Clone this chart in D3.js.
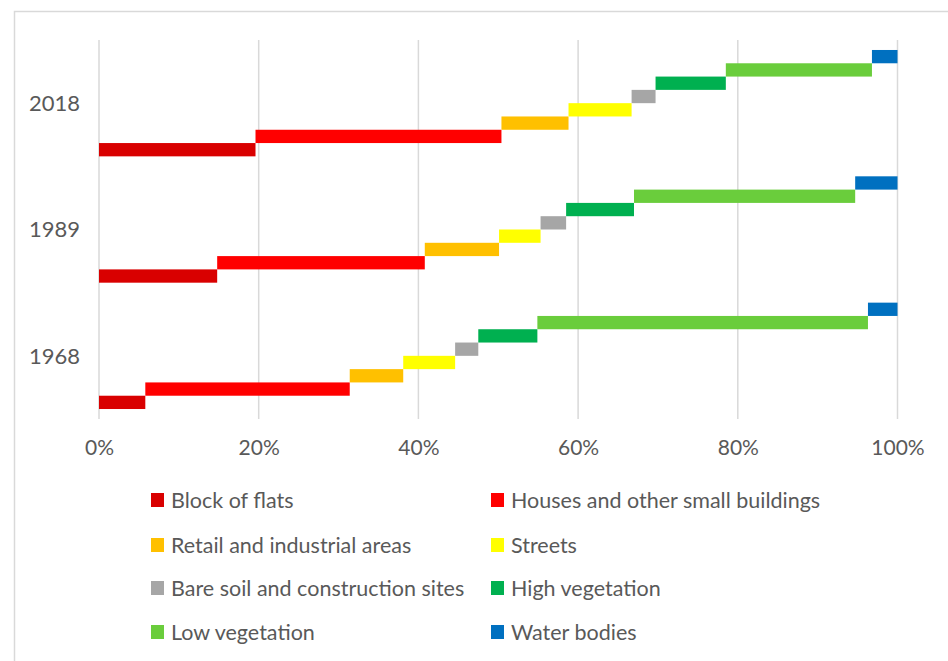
<!DOCTYPE html>
<html>
<head>
<meta charset="utf-8">
<script src="https://cdn.jsdelivr.net/npm/d3@7"></script>
<style>
  html, body { margin: 0; padding: 0; background: #fff; }
  svg { display: block; }
  text { font-family: Lato, "Open Sans", sans-serif; fill: #595959; }
</style>
</head>
<body>
<svg id="chart" width="948" height="661"></svg>
<script>
// ---- data ----
const years = ["2018", "1989", "1968"];
const seriesNames = [
  "Block of flats",
  "Houses and other small buildings",
  "Retail and industrial areas",
  "Streets",
  "Bare soil and construction sites",
  "High vegetation",
  "Low vegetation",
  "Water bodies"
];
const seriesColors = ["#D90000", "#FF0000", "#FFC000", "#FFFF00", "#A6A6A6", "#00B050", "#6ACD3C", "#0070C0"];
// shares (%) per year, order: 2018, 1989, 1968
const blockOfFlats   = [19.6, 14.8, 5.8];
const houses         = [30.8, 26.0, 25.6];
const retail         = [8.4, 9.3, 6.7];
const streets        = [7.9, 5.2, 6.5];
const bareSoil       = [3.0, 3.2, 2.9];
const highVegetation = [8.8, 8.5, 7.4];
const lowVegetation  = [18.3, 27.7, 41.4];
const waterBodies    = [3.2, 5.3, 3.7];
const xTicks = [0, 20, 40, 60, 80, 100];

const seriesValues = [blockOfFlats, houses, retail, streets, bareSoil, highVegetation, lowVegetation, waterBodies];
const table = years.map((y, i) => {
  const row = { year: y };
  seriesNames.forEach((s, j) => row[s] = seriesValues[j][i]);
  return row;
});
const stacked = d3.stack().keys(seriesNames)(table);

// ---- layout ----
const svg = d3.select("#chart");
const plot = { left: 99, right: 897.5, top: 40, bottom: 419 };

svg.append("rect")
  .attr("x", 14.5).attr("y", 11.5).attr("width", 1000).attr("height", 700)
  .attr("fill", "none").attr("stroke", "#D9D9D9").attr("stroke-width", 1.5);

const x = d3.scaleLinear().domain([0, 100]).range([plot.left, plot.right]);
const gap = 0.158;
const y = d3.scaleBand().domain(years).range([plot.top, plot.bottom])
  .paddingInner(gap).paddingOuter(gap / 2);
const ySeries = d3.scaleBand().domain(seriesNames.slice().reverse())
  .range([0, y.bandwidth()]).padding(0);

// gridlines
svg.append("g").selectAll("line").data(xTicks).join("line")
  .attr("x1", d => x(d)).attr("x2", d => x(d))
  .attr("y1", plot.top).attr("y2", plot.bottom)
  .attr("stroke", "#D9D9D9").attr("stroke-width", 1.5);

// bars
svg.append("g").selectAll("g").data(stacked).join("g")
  .attr("fill", (d, i) => seriesColors[i])
  .selectAll("rect").data(d => d.map(v => ({ v, key: d.key }))).join("rect")
  .attr("x", d => x(d.v[0]))
  .attr("width", d => x(d.v[1]) - x(d.v[0]))
  .attr("y", d => y(d.v.data.year) + ySeries(d.key))
  .attr("height", ySeries.bandwidth());

// x axis
const xAxis = svg.append("g").attr("transform", `translate(0,${plot.bottom})`)
  .call(d3.axisBottom(x).tickValues(xTicks).tickFormat(d => d + "%").tickSize(0));
xAxis.select(".domain").remove();
xAxis.selectAll("text").attr("y", 29).attr("dy", "0.35em")
  .style("font-size", "21px").style("fill", "#595959").style("font-family", "Lato, sans-serif");

// y axis
const yAxis = svg.append("g").attr("transform", `translate(80,0)`)
  .call(d3.axisLeft(y).tickSize(0).tickPadding(0));
yAxis.select(".domain").remove();
yAxis.selectAll("text").attr("dy", "0.35em")
  .style("font-size", "22px").style("fill", "#595959").style("font-family", "Lato, sans-serif");

// legend
const legendCols = [151, 491];
const legendRows = [500, 545, 588, 632];
const legend = svg.append("g").selectAll("g").data(seriesNames).join("g")
  .attr("transform", (d, i) => `translate(${legendCols[i % 2]},${legendRows[Math.floor(i / 2)]})`);
legend.append("rect").attr("x", 0).attr("y", -7).attr("width", 13).attr("height", 14)
  .attr("fill", (d, i) => seriesColors[i]);
legend.append("text").attr("x", 20).attr("dy", "0.35em")
  .style("font-size", "21.5px").text(d => d);
</script>
</body>
</html>
